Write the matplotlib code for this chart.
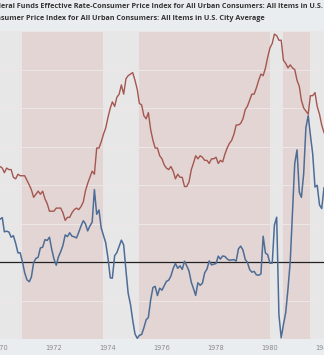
import numpy as np
import pandas as pd
import matplotlib
matplotlib.use("Agg")
import matplotlib.pyplot as plt
import matplotlib.dates as mdates

# monthly, Jan 1970 .. Jan 1982
fedfunds = [
    8.98, 8.98, 7.76, 8.10, 7.95, 7.61, 7.21, 6.61, 6.29, 6.20, 5.60, 4.90,
    4.14, 3.72, 3.71, 4.16, 4.63, 4.91, 5.31, 5.56, 5.55, 5.20, 4.91, 4.14,
    3.50, 3.29, 3.83, 4.17, 4.27, 4.46, 4.55, 4.80, 4.87, 5.04, 5.06, 5.33,
    5.94, 6.58, 7.09, 7.12, 7.84, 8.49, 10.40, 10.50, 10.78, 10.01, 10.03, 9.95,
    9.65, 8.97, 9.35, 10.51, 11.31, 11.93, 12.92, 12.01, 11.34, 10.06, 9.45, 8.53,
    7.13, 6.24, 5.54, 5.49, 5.22, 5.55, 6.10, 6.14, 6.24, 5.82, 5.22, 5.20,
    4.87, 4.77, 4.84, 4.82, 5.29, 5.48, 5.31, 5.29, 5.25, 5.02, 4.95, 4.65,
    4.61, 4.68, 4.69, 4.73, 5.35, 5.39, 5.42, 5.90, 6.14, 6.47, 6.51, 6.56,
    6.70, 6.78, 6.79, 6.89, 7.36, 7.60, 7.81, 8.04, 8.45, 8.96, 9.76, 10.03,
    10.07, 10.06, 10.09, 10.01, 10.24, 10.29, 10.47, 10.94, 11.43, 13.77, 13.18, 13.78,
    13.82, 14.13, 17.19, 17.61, 10.98, 9.47, 9.03, 9.61, 10.87, 12.81, 15.85, 18.90,
    19.08, 15.93, 14.70, 15.72, 18.52, 19.10, 19.04, 17.82, 15.87, 15.08, 13.31, 12.37,
    13.22,
]
cpi_yoy = [
    6.2, 6.1, 5.8, 6.1, 6.0, 6.0, 5.5, 5.4, 5.7, 5.6, 5.6, 5.6,
    5.3, 5.0, 4.7, 4.2, 4.4, 4.6, 4.4, 4.6, 4.1, 3.8, 3.3, 3.3,
    3.3, 3.5, 3.5, 3.5, 3.2, 2.7, 2.9, 2.9, 3.2, 3.4, 3.5, 3.4,
    3.6, 3.9, 4.6, 5.1, 5.5, 5.9, 5.7, 7.4, 7.4, 7.8, 8.3, 8.7,
    9.4, 10.0, 10.4, 10.1, 10.7, 10.9, 11.5, 10.9, 11.9, 12.1, 12.2, 12.3,
    11.8, 11.2, 10.3, 10.2, 9.5, 9.3, 9.7, 8.6, 7.9, 7.4, 7.4, 6.9,
    6.7, 6.3, 6.1, 6.0, 6.2, 5.9, 5.4, 5.7, 5.5, 5.5, 4.9, 4.9,
    5.2, 6.0, 6.4, 6.9, 6.7, 6.9, 6.8, 6.6, 6.6, 6.4, 6.7, 6.7,
    6.8, 6.4, 6.6, 6.5, 7.0, 7.4, 7.7, 7.9, 8.3, 8.9, 8.9, 9.0,
    9.3, 9.9, 10.1, 10.5, 10.9, 10.9, 11.3, 11.8, 12.2, 12.1, 12.6, 13.3,
    13.9, 14.2, 14.8, 14.7, 14.4, 14.4, 13.1, 12.9, 12.6, 12.8, 12.6, 12.5,
    11.8, 11.4, 10.5, 10.0, 9.8, 9.6, 10.8, 10.8, 11.0, 10.1, 9.6, 8.9,
    8.4,
]
recessions = [
    ("1969-12-01", "1970-11-01"),
    ("1973-11-01", "1975-03-01"),
    ("1980-01-01", "1980-07-01"),
    ("1981-07-01", "1982-11-01"),
]
tick_years = [1970, 1972, 1974, 1976, 1978, 1980, 1982]
series_names = [
    "Federal Funds Effective Rate-Consumer Price Index for All Urban Consumers: All Items in U.S. City Average",
    "Consumer Price Index for All Urban Consumers: All Items in U.S. City Average",
]

dates = pd.date_range("1970-01-01", periods=len(cpi_yoy), freq="MS")
spread = np.array(fedfunds) - np.array(cpi_yoy)

W, H = 324, 355
fig = plt.figure(figsize=(W / 100, H / 100), dpi=100, facecolor="#e9edf0")
ax = fig.add_axes([0, 16 / H, 1, 308 / H])
ax.set_facecolor("#e2d5d4")

for start, end in recessions:
    ax.axvspan(pd.Timestamp(start), pd.Timestamp(end), color="#e8e7e8", lw=0, zorder=0)

for v in np.arange(-5, 15.1, 2.5):
    ax.axhline(v, color="#ece6e6", lw=0.8, zorder=1)
ax.axhline(0, color="#222222", lw=0.9, zorder=2)

ax.plot(dates, cpi_yoy, color="#a4564f", lw=1.0, zorder=3)
ax.plot(dates, spread, color="#4d6d96", lw=1.1, zorder=4)

ax.set_xlim(pd.Timestamp("1970-03-19"), pd.Timestamp("1981-12-05"))
ax.set_ylim(-5, 15)
ax.set_xticks([pd.Timestamp(f"{y}-01-01") for y in tick_years])
ax.xaxis.set_major_formatter(mdates.DateFormatter("%Y"))
ax.tick_params(axis="x", length=0, pad=4, labelsize=4.8, labelcolor="#8a8a8a")
ax.set_yticks([])
for s in ax.spines.values():
    s.set_visible(False)

# legend text lines above the plot, left part runs off the edge
fig.canvas.draw()
rend = fig.canvas.get_renderer()


def cut_text(y_px, full, hidden, x_px):
    kw = dict(fontsize=5.2, fontweight="bold", color="#333333",
              family=["Open Sans", "DejaVu Sans"], va="center")
    tmp = fig.text(0, 0, hidden, **kw)
    w = tmp.get_window_extent(rend).width
    tmp.remove()
    fig.text((x_px - w) / W, 1 - y_px / H, full, ha="left", **kw)


cut_text(6, series_names[0], "Fed", 1)
cut_text(18, series_names[1], "Con", 1)

fig.savefig("out.png", dpi=100, facecolor=fig.get_facecolor())
